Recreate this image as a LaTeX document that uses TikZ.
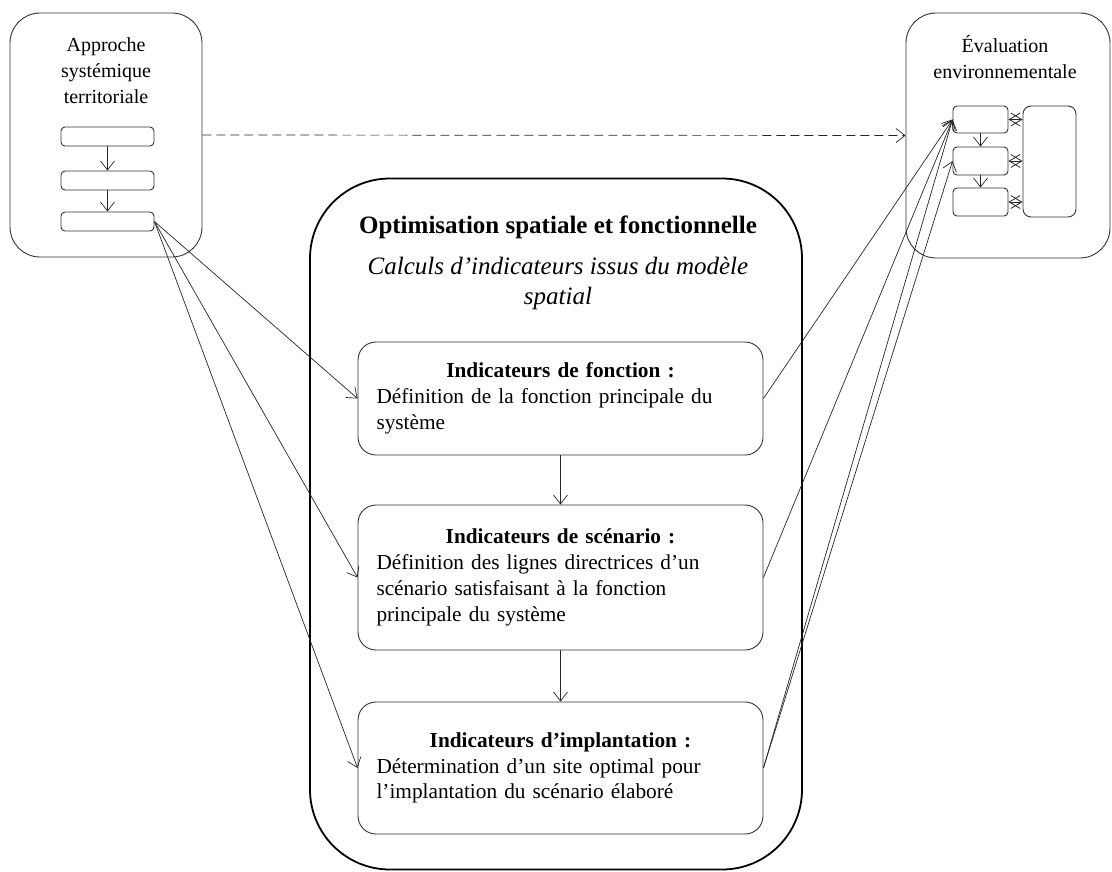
\documentclass[tikz,border=0pt]{standalone}
\usepackage{fontspec}
\setmainfont{Liberation Serif}
\usetikzlibrary{arrows.meta}
\begin{document}
\begin{tikzpicture}[x=1pt,y=-1pt,
  box/.style={draw=black!80, line width=0.9pt, rounded corners=18pt, inner sep=0pt},
  smallbox/.style={draw=black!80, line width=0.9pt, rounded corners=4pt, inner sep=0pt},
  arr/.style={-{Straight Barb[length=9pt,width=14pt]}, line width=0.7pt, draw=black!85},
  dbl/.style={{Straight Barb[length=11pt,width=13pt]}-{Straight Barb[length=11pt,width=13pt]}, line width=0.8pt, draw=black!85},
  txt/.style={font=\fontsize{20}{26}\selectfont, align=center, inner sep=0pt},
  body/.style={font=\fontsize{21.3}{25.8}\selectfont, text width=368pt}
]
\useasboundingbox (0,0) rectangle (1112,871);

% left box
\node[box, rounded corners=30pt, minimum width=192pt, minimum height=244pt] (ast) at (106,135) {};
\node[txt] (astt) at (106,71) {Approche\\systémique\\territoriale};
\node[smallbox, minimum width=93pt, minimum height=19pt] (s1) at (107.5,136.5) {};
\node[smallbox, minimum width=93pt, minimum height=19pt] (s2) at (107.5,180.5) {};
\node[smallbox, minimum width=93pt, minimum height=19pt] (s3) at (107.5,221.5) {};
\draw[arr] (s1) -- (s2);
\draw[arr] (s2) -- (s3);

% right box
\node[box, rounded corners=30pt, minimum width=204pt, minimum height=245pt] (ev) at (1008,135.5) {};
\node[txt] (evt) at (1005,57) {Évaluation\\environnementale};
\node[smallbox, minimum width=55pt, minimum height=27pt] (e1) at (980.5,119.5) {};
\node[smallbox, minimum width=55pt, minimum height=28pt] (e2) at (980.5,161) {};
\node[smallbox, minimum width=55pt, minimum height=28pt] (e3) at (980.5,202) {};
\node[smallbox, rounded corners=8pt, minimum width=53pt, minimum height=111pt] (et) at (1049.5,161.5) {};
\draw[arr] (e1) -- (e2);
\draw[arr] (e2) -- (e3);
\draw[dbl] (e1.east) -- (e1.east -| et.west);
\draw[dbl] (e2.east) -- (e2.east -| et.west);
\draw[dbl] (e3.east) -- (e3.east -| et.west);

% middle box
\node[draw=black, line width=1.8pt, rounded corners=80pt, minimum width=492pt, minimum height=691pt, inner sep=0pt] (opt) at (556,524) {};
\node[font=\fontsize{25}{30}\selectfont\bfseries, inner sep=0pt] (optt) at (558,227) {Optimisation spatiale et fonctionnelle};
\node[font=\fontsize{25}{30}\selectfont\itshape, align=center, inner sep=0pt] (opti) at (558,283) {Calculs d’indicateurs issus du modèle\\spatial};

\node[box, minimum width=405pt, minimum height=113pt, body] (f) at (560.5,398.5)
  {{\centering\textbf{Indicateurs de fonction :}\par}\raggedright Définition de la fonction principale du\\système\par};
\node[box, minimum width=405pt, minimum height=145pt, body] (sc) at (560.5,577.5)
  {{\centering\textbf{Indicateurs de scénario :}\par}\raggedright Définition des lignes directrices d’un\\scénario satisfaisant à la fonction\\principale du système\par};
\node[box, minimum width=405pt, minimum height=132pt, body] (im) at (560.5,768)
  {{\centering\textbf{Indicateurs d’implantation :}\par}\raggedright Détermination d’un site optimal pour\\l’implantation du scénario élaboré\par};

\draw[arr] (f) -- (sc);
\draw[arr] (sc) -- (im);

% connectors
\draw[arr, dashed, dash pattern=on 9pt off 5pt] (ast.east) -- (ev.west);
\draw[arr] (s3.east) -- (f.west);
\draw[arr] (s3.east) -- (sc.west);
\draw[arr] (s3.east) -- (im.west);
\draw[arr] (f.east) -- (e1.west);
\draw[arr] (sc.east) -- (e1.west);
\draw[arr] (im.east) -- (e1.west);
\draw[arr] (im.east) -- (e2.west);
\end{tikzpicture}
\end{document}
